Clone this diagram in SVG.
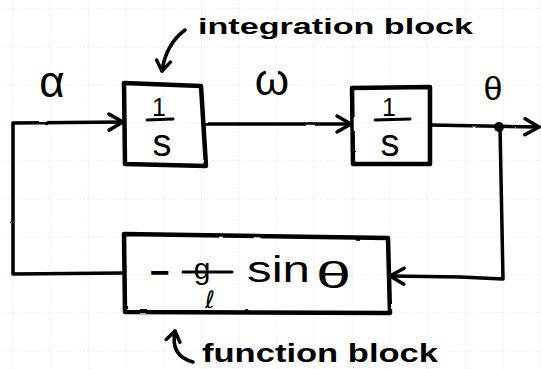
<svg xmlns="http://www.w3.org/2000/svg" width="541" height="369" viewBox="0 0 541 369">
  <style>
    .box { fill: none; stroke: #000; stroke-width: 4.5; stroke-linejoin: round; stroke-linecap: round; }
    .wire { fill: none; stroke: #000; stroke-width: 3.5; stroke-linejoin: round; stroke-linecap: round; }
    .ptr { fill: none; stroke: #000; stroke-width: 3.5; stroke-linecap: round; }
    .bar { stroke: #000; stroke-width: 3; stroke-linecap: round; }
    .sym { font-family: "Liberation Sans", "DejaVu Sans", sans-serif; fill: #000; }
    .note { font-family: "Liberation Sans", "DejaVu Sans", sans-serif; font-weight: bold; fill: #000; }
  </style>
  <defs>
    <pattern id="grid" patternUnits="userSpaceOnUse" x="12.5" y="8.5" width="37.7" height="38">
      <path d="M0,0 H37.7 M0,0 V38" fill="none" stroke="#a8a8a8" stroke-width="1" stroke-dasharray="1 2" opacity="0.7"/>
    </pattern>
    <filter id="rough" filterUnits="userSpaceOnUse" x="0" y="0" width="541" height="369">
      <feTurbulence type="fractalNoise" baseFrequency="0.06" numOctaves="2" seed="3" result="n"/>
      <feDisplacementMap in="SourceGraphic" in2="n" scale="1.8" xChannelSelector="R" yChannelSelector="G"/>
    </filter>
    <marker id="arrow" markerUnits="userSpaceOnUse" markerWidth="30" markerHeight="30" refX="0" refY="0" viewBox="-20 -15 30 30" orient="auto" overflow="visible">
      <path d="M-14,-8 L0,0 L-14,8" fill="none" stroke="#000" stroke-width="3.5" stroke-linecap="round" stroke-linejoin="round"/>
    </marker>
    <marker id="ptrhead" markerUnits="userSpaceOnUse" markerWidth="30" markerHeight="30" refX="0" refY="0" viewBox="-20 -15 30 30" orient="auto" overflow="visible">
      <path d="M-10,-7 L0,0 L-10,7" fill="none" stroke="#000" stroke-width="3.5" stroke-linecap="round" stroke-linejoin="round"/>
    </marker>
  </defs>

  <rect x="0" y="0" width="541" height="369" fill="#fff"/>
  <rect x="0" y="0" width="541" height="369" fill="url(#grid)"/>

  <g id="connectors" filter="url(#rough)">
    <path class="wire" d="M124,273 L13,274 L13,123 L123,122" marker-end="url(#arrow)"/>
    <path class="wire" d="M204,124 L351,124" marker-end="url(#arrow)"/>
    <path class="wire" d="M430,125 L539,127" marker-end="url(#arrow)"/>
    <circle cx="499" cy="127" r="5" fill="#000"/>
    <path class="wire" d="M500,127 L503,279 L460,277 L390,276" marker-end="url(#arrow)"/>
  </g>

  <g id="integrator1">
    <path class="box" filter="url(#rough)" d="M124,83 L201,86 L206,166 L125,164 Z"/>
    <text class="sym"><tspan x="159" y="116" font-size="25" text-anchor="middle">1</tspan><tspan x="162" y="156" font-size="38" text-anchor="middle">s</tspan></text>
    <line class="bar" x1="147" y1="120" x2="173" y2="119"/>
  </g>

  <g id="integrator2">
    <path class="box" filter="url(#rough)" d="M352,88 L430,87 L430,164 L353,164 Z"/>
    <text class="sym"><tspan x="389" y="116" font-size="25" text-anchor="middle">1</tspan><tspan x="390" y="156" font-size="38" text-anchor="middle">s</tspan></text>
    <line class="bar" x1="375" y1="120" x2="410" y2="119"/>
  </g>

  <g id="function-block">
    <path class="box" filter="url(#rough)" d="M124,234 L388,238 L390,313 L125,312 Z"/>
    <text class="sym" x="160" y="284" font-size="34" font-weight="bold" text-anchor="middle">−</text>
    <text class="sym"><tspan x="202" y="279" font-size="30" text-anchor="middle">g</tspan><tspan x="210" y="308" font-size="24" font-family="DejaVu Sans, sans-serif" text-anchor="middle">ℓ</tspan></text>
    <line class="bar" x1="183" y1="272" x2="232" y2="272"/>
    <text class="sym" x="247" y="282" font-size="36" textLength="63" lengthAdjust="spacingAndGlyphs">sin</text>
    <text class="sym" x="316" y="288" font-size="36" textLength="35" lengthAdjust="spacingAndGlyphs">θ</text>
  </g>

  <g id="labels">
    <text class="sym" x="52" y="97" font-size="44" text-anchor="middle">α</text>
    <text class="sym" x="272" y="95" font-size="44" text-anchor="middle">ω</text>
    <text class="sym" x="493" y="100" font-size="34" text-anchor="middle">θ</text>
  </g>

  <g id="integration-note">
    <path class="ptr" d="M185,30 Q166,44 162,71" marker-end="url(#ptrhead)"/>
    <text class="note" x="198" y="34" font-size="22" textLength="275" lengthAdjust="spacingAndGlyphs">integration block</text>
  </g>

  <g id="function-note">
    <path class="ptr" d="M193,362 Q170,356 175,331" marker-end="url(#ptrhead)"/>
    <text class="note" x="202" y="362" font-size="25" textLength="236" lengthAdjust="spacingAndGlyphs">function block</text>
  </g>
</svg>
